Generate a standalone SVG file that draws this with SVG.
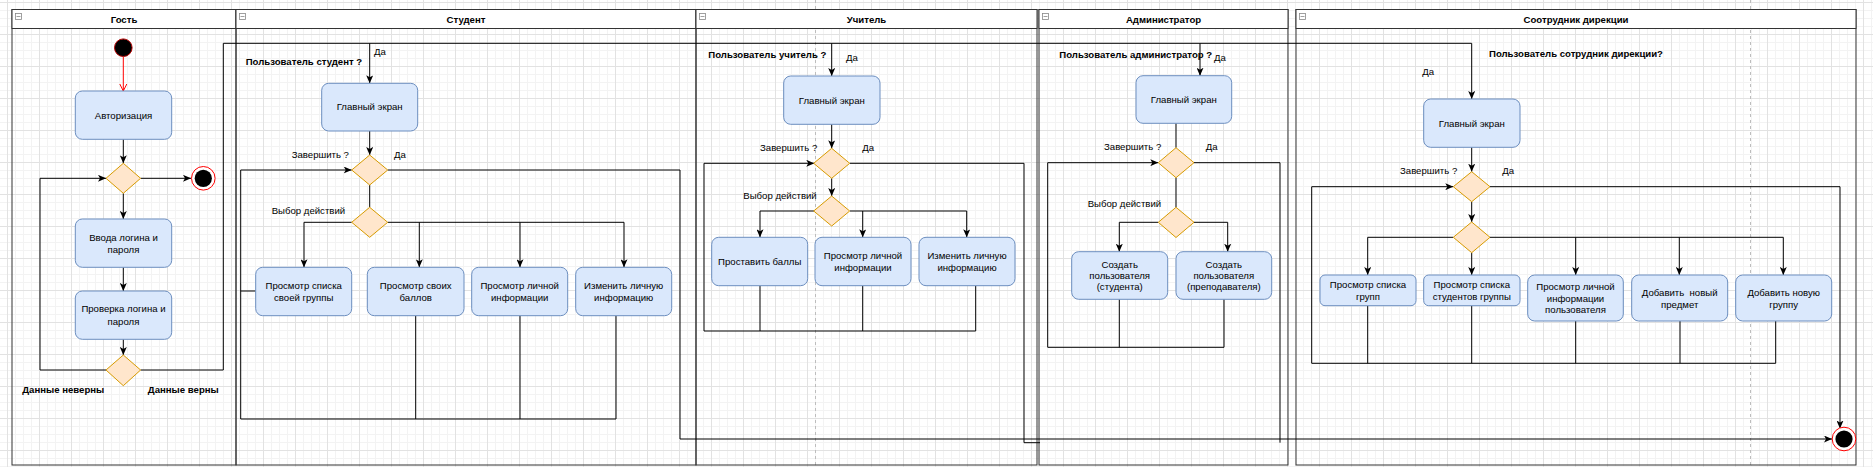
<svg xmlns="http://www.w3.org/2000/svg" width="1873" height="467" viewBox="0 0 1873 467">
<style>
.t{font-family:"Liberation Sans",Arial,sans-serif;font-size:9.6px;fill:#000}
.b{font-weight:bold}
.m{text-anchor:middle}
.lane{fill:none;stroke:#333;stroke-width:1}
.hdr{fill:#fff;stroke:#333;stroke-width:1}
.box{fill:#dae8fc;stroke:#6c8ebf;stroke-width:1}
.dia{fill:#ffe6cc;stroke:#d79b00;stroke-width:1}
.c{fill:none;stroke:#000;stroke-width:1}
.ca{fill:none;stroke:#000;stroke-width:1;marker-end:url(#arr)}
.icon{fill:#fff;stroke:#888;stroke-width:0.8}
</style>
<defs>
<pattern id="grid" x="7" y="2" width="32" height="32" patternUnits="userSpaceOnUse">
<path d="M0 8.5H32M0 16.5H32M0 24.5H32M8.5 0V32M16.5 0V32M24.5 0V32" stroke="#f3f3f3" stroke-width="1" fill="none"/>
<path d="M0 0.5H32M0.5 0V32" stroke="#e2e2e2" stroke-width="1" fill="none"/>
</pattern>
<marker id="arr" viewBox="0 0 8 7" refX="8" refY="3.5" markerWidth="8" markerHeight="7" markerUnits="userSpaceOnUse" orient="auto">
<path d="M0,0 L8,3.5 L0,7 L2,3.5 Z" fill="#000"/>
</marker>
<marker id="open" viewBox="0 0 8 8" refX="7.5" refY="4" markerWidth="8" markerHeight="8" markerUnits="userSpaceOnUse" orient="auto">
<path d="M0.5,0.5 L7.5,4 L0.5,7.5" fill="none" stroke="#ff0000" stroke-width="1"/>
</marker>
</defs>
<rect width="1873" height="467" fill="#fff"/>
<rect width="1873" height="467" fill="url(#grid)"/>
<g id="pagebreaks" stroke="#bdbdbd" stroke-width="1" stroke-dasharray="3,3">
<line x1="815.5" y1="0" x2="815.5" y2="467"/>
<line x1="1750.5" y1="0" x2="1750.5" y2="467"/>
</g>

<g id="lanes">
<g id="lane-guest">
<rect class="lane" x="12" y="9.5" width="224" height="455.5"/>
<rect class="hdr" x="12" y="9.5" width="224" height="19"/>
<rect class="icon" x="15.5" y="13.5" width="6" height="6"/><line x1="16.5" y1="16.5" x2="20.5" y2="16.5" stroke="#888" stroke-width="0.8"/>
<text class="t b m" x="124" y="22.5">Гость</text>
</g>
<g id="lane-student">
<rect class="lane" x="236" y="9.5" width="460" height="455.5"/>
<rect class="hdr" x="236" y="9.5" width="460" height="19"/>
<rect class="icon" x="239.5" y="13.5" width="6" height="6"/><line x1="240.5" y1="16.5" x2="244.5" y2="16.5" stroke="#888" stroke-width="0.8"/>
<text class="t b m" x="466" y="22.5">Студент</text>
</g>
<g id="lane-teacher">
<rect class="lane" x="696" y="9.5" width="341" height="455.5"/>
<rect class="hdr" x="696" y="9.5" width="341" height="19"/>
<rect class="icon" x="699.5" y="13.5" width="6" height="6"/><line x1="700.5" y1="16.5" x2="704.5" y2="16.5" stroke="#888" stroke-width="0.8"/>
<text class="t b m" x="866.5" y="22.5">Учитель</text>
</g>
<g id="lane-admin">
<rect class="lane" x="1039" y="9.5" width="249" height="455.5"/>
<rect class="hdr" x="1039" y="9.5" width="249" height="19"/>
<rect class="icon" x="1042.5" y="13.5" width="6" height="6"/><line x1="1043.5" y1="16.5" x2="1047.5" y2="16.5" stroke="#888" stroke-width="0.8"/>
<text class="t b m" x="1163.5" y="22.5">Администратор</text>
</g>
<g id="lane-director">
<rect class="lane" x="1296" y="9.5" width="560" height="455.5"/>
<rect class="hdr" x="1296" y="9.5" width="560" height="19"/>
<rect class="icon" x="1299.5" y="13.5" width="6" height="6"/><line x1="1300.5" y1="16.5" x2="1304.5" y2="16.5" stroke="#888" stroke-width="0.8"/>
<text class="t b m" x="1576" y="22.5">Соотрудник дирекции</text>
</g>
</g>

<g id="connectors">
<!-- guest -->
<line x1="123.3" y1="57" x2="123.3" y2="91" stroke="#ff0000" stroke-width="1" marker-end="url(#open)"/>
<polyline class="ca" points="123.3,139.3 123.3,163.3"/>
<polyline class="ca" points="140.6,178.3 191,178.3"/>
<polyline class="ca" points="123.3,193.3 123.3,219"/>
<polyline class="ca" points="123.3,267.3 123.3,291"/>
<polyline class="ca" points="123.3,339.3 123.3,355"/>
<polyline class="ca" points="106,370 40,370 40,178.3 106,178.3"/>
<polyline class="ca" points="140.6,370 223.3,370 223.3,43.3 1471.7,43.3 1471.7,99"/>
<polyline class="ca" points="369.7,43.3 369.7,83.3"/>
<polyline class="ca" points="831.7,43.3 831.7,76"/>
<polyline class="ca" points="1200,43.3 1200,75.7"/>
<!-- student -->
<polyline class="ca" points="369.7,131 369.7,155"/>
<polyline class="c" points="369.7,185 369.7,207.3"/>
<polyline class="ca" points="351.7,222.3 304,222.3 304,267.3"/>
<polyline class="c" points="387.7,222.3 624,222.3"/>
<polyline class="ca" points="419.3,222.3 419.3,267.3"/>
<polyline class="ca" points="520,222.3 520,267.3"/>
<polyline class="ca" points="624,222.3 624,267.3"/>
<polyline class="c" points="415.7,315.7 415.7,419"/>
<polyline class="c" points="520,315.7 520,419"/>
<polyline class="c" points="616,315.7 616,419"/>
<polyline class="c" points="616,419 240.7,419"/>
<polyline class="ca" points="240.7,419 240.7,170 351.7,170"/>
<polyline class="c" points="255.7,291 240.7,291"/>
<polyline class="ca" points="387.7,170 680,170 680,439 1832,439"/>
<!-- teacher -->
<polyline class="ca" points="831.7,124.3 831.7,148.3"/>
<polyline class="ca" points="831.7,178.3 831.7,196"/>
<polyline class="ca" points="814.3,211 760,211 760,237.3"/>
<polyline class="c" points="850,211 966.7,211"/>
<polyline class="ca" points="862.7,211 862.7,237.3"/>
<polyline class="ca" points="966.7,211 966.7,237.3"/>
<polyline class="c" points="760,285.7 760,331"/>
<polyline class="c" points="862.7,285.7 862.7,331"/>
<polyline class="c" points="975.7,285.7 975.7,331 704,331"/>
<polyline class="ca" points="704,331 704,163.3 814.3,163.3"/>
<polyline class="c" points="850,163.3 1024,163.3 1024,442.7 1040,442.7"/>
<!-- admin -->
<polyline class="c" points="1176,123.3 1176,147.7"/>
<polyline class="c" points="1176,177.7 1176,207.3"/>
<polyline class="ca" points="1158.3,222.3 1119.3,222.3 1119.3,251.7"/>
<polyline class="ca" points="1194,222.3 1227.7,222.3 1227.7,251.7"/>
<polyline class="c" points="1119.3,299.3 1119.3,347.3"/>
<polyline class="c" points="1224,299.3 1224,347.3 1047.7,347.3"/>
<polyline class="ca" points="1047.7,347.3 1047.7,162.7 1158.3,162.7"/>
<polyline class="c" points="1194,162.7 1280,162.7 1280,442.7"/>
<!-- director -->
<polyline class="ca" points="1471.7,147.3 1471.7,171.7"/>
<polyline class="ca" points="1471.7,201.7 1471.7,222"/>
<polyline class="ca" points="1453.3,237.3 1367.7,237.3 1367.7,275"/>
<polyline class="ca" points="1471.7,252.7 1471.7,275"/>
<polyline class="c" points="1490,237.3 1783.3,237.3"/>
<polyline class="ca" points="1575.7,237.3 1575.7,275"/>
<polyline class="ca" points="1679.3,237.3 1679.3,275"/>
<polyline class="ca" points="1783.3,237.3 1783.3,275"/>
<polyline class="c" points="1367.7,305.7 1367.7,363.3"/>
<polyline class="c" points="1471.7,305.7 1471.7,363.3"/>
<polyline class="c" points="1575.7,321 1575.7,363.3"/>
<polyline class="c" points="1680,321 1680,363.3"/>
<polyline class="c" points="1775.7,321 1775.7,363.3 1311.7,363.3"/>
<polyline class="ca" points="1311.7,363.3 1311.7,186.7 1453.3,186.7"/>
<polyline class="ca" points="1490,186.7 1840,186.7 1840,428.5"/>
</g>

<!-- guest nodes -->
<g id="start"><circle cx="123.3" cy="47.7" r="8.8" fill="#000" stroke="#b20000" stroke-width="1"/></g>
<g id="g-auth"><rect class="box" x="75.3" y="91" width="96.4" height="48.3" rx="7"/><text class="t m" x="123.5" y="118.5">Авторизация</text></g>
<g id="g-d1"><polygon class="dia" points="123.3,163.3 140.6,178.3 123.3,193.3 106,178.3"/></g>
<g id="end-guest"><circle cx="203.3" cy="178.3" r="11.8" fill="#fff" stroke="#ff0000" stroke-width="1"/><circle cx="203.3" cy="178.3" r="8.6" fill="#000"/></g>
<g id="g-login"><rect class="box" x="75.3" y="219" width="96.4" height="48.3" rx="7"/><text class="t m" x="123.5" y="240.6">Ввода логина и</text><text class="t m" x="123.5" y="252.6">пароля</text></g>
<g id="g-check"><rect class="box" x="75.3" y="291" width="96.4" height="48.3" rx="7"/><text class="t m" x="123.5" y="312.4">Проверка логина и</text><text class="t m" x="123.5" y="324.6">пароля</text></g>
<g id="g-d2"><polygon class="dia" points="123.3,355 140.6,370 123.3,385.7 106,370"/></g>
<g id="g-labels"><text class="t b m" x="63.3" y="392.6">Данные неверны</text><text class="t b m" x="183.3" y="392.6">Данные верны</text></g>

<!-- student nodes -->
<g id="s-labels">
<text class="t" x="374" y="55">Да</text>
<text class="t b" x="245.7" y="65">Пользователь студент ?</text>
<text class="t" x="291.7" y="157.6">Завершить ?</text>
<text class="t" x="394" y="157.6">Да</text>
<text class="t" x="271.7" y="214">Выбор действий</text>
</g>
<g id="s-main"><rect class="box" x="321.7" y="83.3" width="96" height="47.7" rx="7"/><text class="t m" x="369.7" y="110.4">Главный экран</text></g>
<g id="s-d1"><polygon class="dia" points="369.7,155 387.7,170 369.7,185 351.7,170"/></g>
<g id="s-d2"><polygon class="dia" points="369.7,207.3 387.7,222.3 369.7,237.3 351.7,222.3"/></g>
<g id="s-b1"><rect class="box" x="255.7" y="267.3" width="96" height="48.4" rx="7"/><text class="t m" x="303.7" y="288.8">Просмотр списка</text><text class="t m" x="303.7" y="300.8">своей группы</text></g>
<g id="s-b2"><rect class="box" x="367.3" y="267.3" width="96.7" height="48.4" rx="7"/><text class="t m" x="415.7" y="288.8">Просмотр своих</text><text class="t m" x="415.7" y="300.8">баллов</text></g>
<g id="s-b3"><rect class="box" x="471.7" y="267.3" width="96" height="48.4" rx="7"/><text class="t m" x="519.7" y="288.8">Просмотр личной</text><text class="t m" x="519.7" y="300.8">информации</text></g>
<g id="s-b4"><rect class="box" x="575.7" y="267.3" width="96" height="48.4" rx="7"/><text class="t m" x="623.7" y="288.8">Изменить личную</text><text class="t m" x="623.7" y="300.8">информацию</text></g>

<!-- teacher nodes -->
<g id="t-labels">
<text class="t b" x="708.3" y="58.3">Пользователь учитель ?</text>
<text class="t" x="846" y="60.6">Да</text>
<text class="t" x="760" y="151">Завершить ?</text>
<text class="t" x="862.3" y="151">Да</text>
<text class="t" x="743.3" y="199">Выбор действий</text>
</g>
<g id="t-main"><rect class="box" x="783.7" y="76" width="96.3" height="48.3" rx="7"/><text class="t m" x="831.8" y="103.5">Главный экран</text></g>
<g id="t-d1"><polygon class="dia" points="831.7,148.3 849.7,163.3 831.7,178.3 813.7,163.3"/></g>
<g id="t-d2"><polygon class="dia" points="831.7,196 849.7,211 831.7,226 813.7,211"/></g>
<g id="t-b1"><rect class="box" x="711.7" y="237.3" width="96" height="48.4" rx="7"/><text class="t m" x="759.7" y="264.8">Проставить баллы</text></g>
<g id="t-b2"><rect class="box" x="815" y="237.3" width="96" height="48.4" rx="7"/><text class="t m" x="863" y="259">Просмотр личной</text><text class="t m" x="863" y="271.4">информации</text></g>
<g id="t-b3"><rect class="box" x="919" y="237.3" width="96" height="48.4" rx="7"/><text class="t m" x="967" y="259">Изменить личную</text><text class="t m" x="967" y="271.4">информацию</text></g>

<!-- admin nodes -->
<g id="a-labels">
<text class="t b" x="1059.3" y="58.3">Пользователь администратор ?</text>
<text class="t" x="1214" y="60.6">Да</text>
<text class="t" x="1104" y="150">Завершить ?</text>
<text class="t" x="1205.7" y="150">Да</text>
<text class="t" x="1087.7" y="206.6">Выбор действий</text>
</g>
<g id="a-main"><rect class="box" x="1136" y="75.7" width="95.7" height="47.6" rx="7"/><text class="t m" x="1183.8" y="102.8">Главный экран</text></g>
<g id="a-d1"><polygon class="dia" points="1176,147.7 1194,162.7 1176,177.7 1158.3,162.7"/></g>
<g id="a-d2"><polygon class="dia" points="1176,207.3 1194,222.3 1176,237.5 1158.3,222.3"/></g>
<g id="a-b1"><rect class="box" x="1071.7" y="251.7" width="96" height="47.6" rx="7"/><text class="t m" x="1119.7" y="267.6">Создать</text><text class="t m" x="1119.7" y="278.8">пользователя</text><text class="t m" x="1119.7" y="290">(студента)</text></g>
<g id="a-b2"><rect class="box" x="1176" y="251.7" width="95.7" height="47.6" rx="7"/><text class="t m" x="1223.8" y="267.6">Создать</text><text class="t m" x="1223.8" y="278.8">пользователя</text><text class="t m" x="1223.8" y="290">(преподавателя)</text></g>

<!-- director nodes -->
<g id="d-labels">
<text class="t b" x="1489" y="57.3">Пользователь сотрудник дирекции?</text>
<text class="t" x="1422.3" y="75">Да</text>
<text class="t" x="1400" y="174.3">Завершить ?</text>
<text class="t" x="1502.3" y="174.3">Да</text>
</g>
<g id="d-main"><rect class="box" x="1423.7" y="99" width="96.3" height="48.3" rx="7"/><text class="t m" x="1471.8" y="126.5">Главный экран</text></g>
<g id="d-d1"><polygon class="dia" points="1471.7,171.7 1490,186.7 1471.7,201.7 1453.3,186.7"/></g>
<g id="d-d2"><polygon class="dia" points="1471.7,222 1490,237.3 1471.7,252.7 1453.3,237.3"/></g>
<g id="d-b1"><rect class="box" x="1320" y="275" width="96" height="30.7" rx="5"/><text class="t m" x="1368" y="287.6">Просмотр списка</text><text class="t m" x="1368" y="300">групп</text></g>
<g id="d-b2"><rect class="box" x="1423.7" y="275" width="96.3" height="30.7" rx="5"/><text class="t m" x="1471.8" y="287.6">Просмотр списка</text><text class="t m" x="1471.8" y="300">студентов группы</text></g>
<g id="d-b3"><rect class="box" x="1527.7" y="275" width="95.6" height="46" rx="7"/><text class="t m" x="1575.5" y="290">Просмотр личной</text><text class="t m" x="1575.5" y="301.6">информации</text><text class="t m" x="1575.5" y="313.3">пользователя</text></g>
<g id="d-b4"><rect class="box" x="1631.7" y="275" width="96" height="46" rx="7"/><text class="t m" x="1679.7" y="296" xml:space="preserve">Добавить  новый</text><text class="t m" x="1679.7" y="308.3">предмет</text></g>
<g id="d-b5"><rect class="box" x="1735.7" y="275" width="96" height="46" rx="7"/><text class="t m" x="1783.7" y="296">Добавить новую</text><text class="t m" x="1783.7" y="308.3">группу</text></g>
<g id="end-final"><circle cx="1844" cy="439" r="11.8" fill="#fff" stroke="#ff0000" stroke-width="1"/><circle cx="1844" cy="439" r="8.6" fill="#000"/></g>
</svg>
